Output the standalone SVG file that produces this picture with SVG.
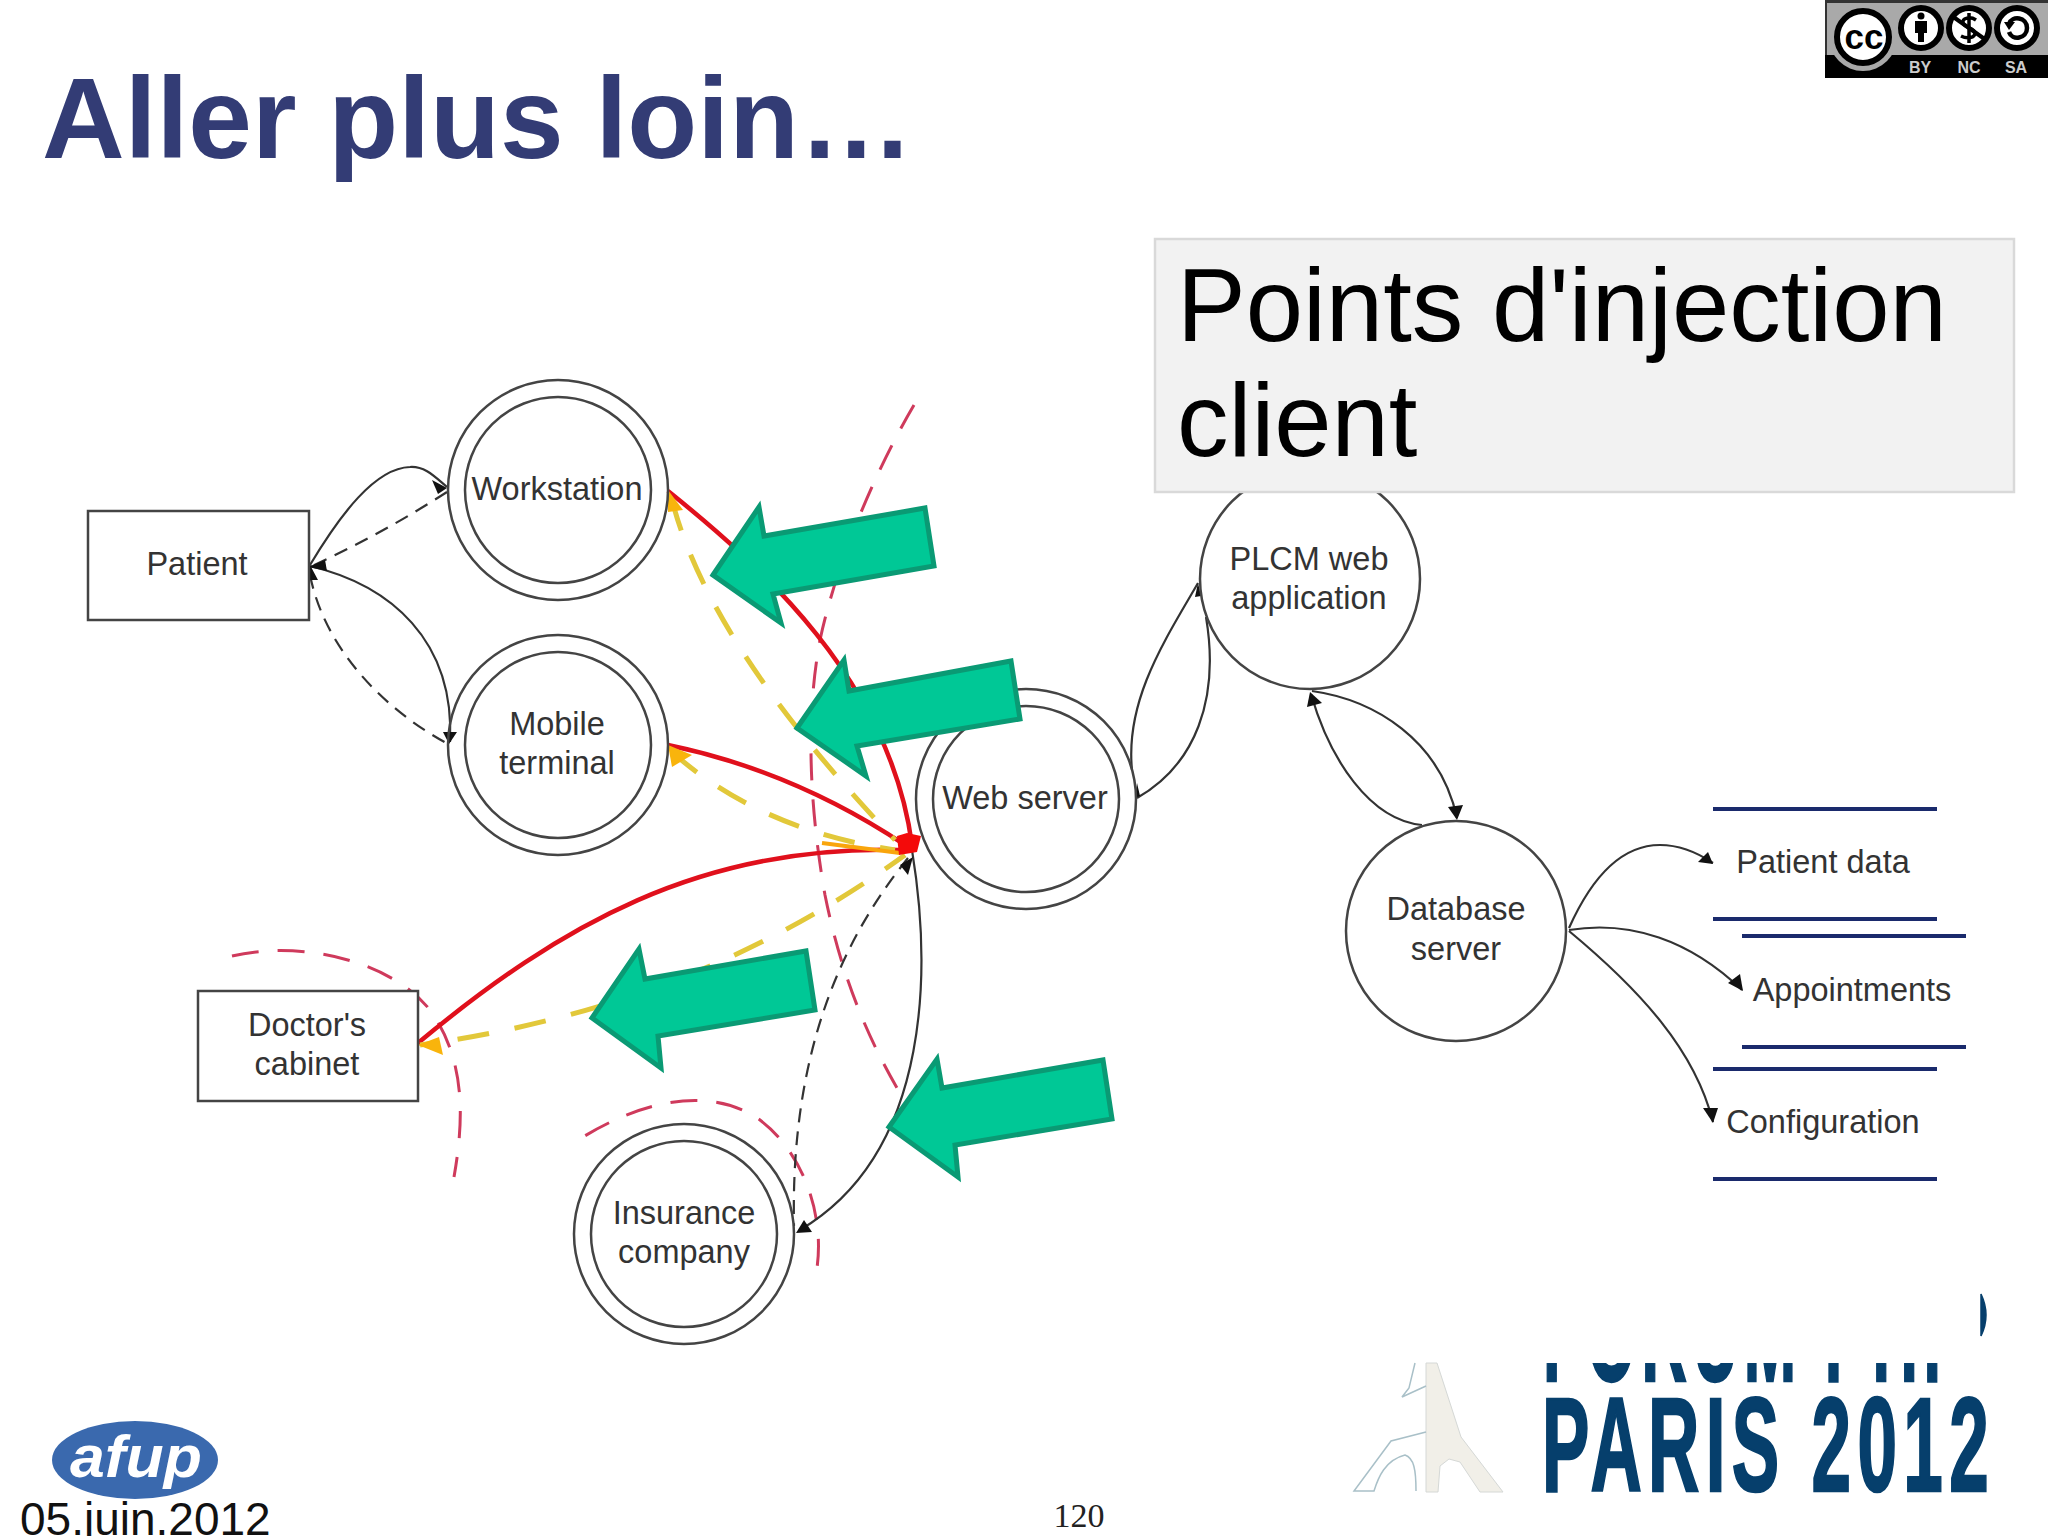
<svg xmlns="http://www.w3.org/2000/svg" width="2048" height="1536" viewBox="0 0 2048 1536">
<style>
text{font-family:"Liberation Sans",Arial,sans-serif}
.lbl{font-size:32.5px;fill:#333;text-anchor:middle}
.shape{fill:#fff;stroke:#444;stroke-width:2.5}
.thin{fill:none;stroke:#444;stroke-width:2.5}
.blk{fill:none;stroke:#333;stroke-width:2.2}
.dash{stroke-dasharray:14 9}
.red{fill:none;stroke:#e0101c;stroke-width:4.5}
.yel{fill:none;stroke:#e2c83a;stroke-width:5;stroke-dasharray:32 26}
.bound{fill:none;stroke:#cf3a5c;stroke-width:3;stroke-dasharray:27 19}
.head{fill:#111}
.goldhead{fill:#f9b40c}
.store{stroke:#1a2a6c;stroke-width:4;fill:none}
.big{fill:#00c896;stroke:#0a9a74;stroke-width:5}
.ic{fill:#fff;stroke:#000;stroke-width:6}
.par{font-weight:bold;font-size:134px;letter-spacing:12px;fill:#063f6c;stroke:#063f6c;stroke-width:2.5}
</style>
<defs>
<clipPath id="forumclip"><rect x="1530" y="1363" width="460" height="21"/></clipPath>
</defs>
<rect width="2048" height="1536" fill="#fff"/>

<text id="title" x="42" y="158" font-size="114.5" font-weight="bold" fill="#333c75">Aller plus loin…</text>

<g id="connectors">
<path class="bound" d="M914 405C870 480 835 570 820 640C805 720 810 810 825 895C840 970 865 1035 903 1098"/>
<path class="bound" d="M232 956C300 940 390 960 430 1010C466 1060 464 1120 454 1177"/>
<path class="bound" d="M575 1142C640 1100 710 1085 760 1120C800 1150 825 1210 817 1268" stroke-dashoffset="-12"/>

<path class="blk" d="M310 565C340 515 375 468 410 467C425 466 435 477 447 487"/>
<path class="blk dash" d="M447 492Q380 535 312 566"/>
<path class="blk" d="M310 566C390 585 455 640 450 742"/>
<path class="blk dash" d="M310 575C325 650 385 710 448 744"/>
<path class="blk" d="M1132 770C1125 700 1165 640 1198 583"/>
<path class="blk" d="M1137 798C1195 765 1220 700 1206 617"/>
<path class="blk" d="M1312 691C1375 700 1440 740 1457 818"/>
<path class="blk" d="M1311 694C1330 760 1370 820 1422 825"/>
<path class="blk" d="M1569 928C1595 870 1625 845 1660 845C1680 845 1698 853 1713 863"/>
<path class="blk" d="M1569 930C1630 920 1690 940 1742 990"/>
<path class="blk" d="M1569 931C1640 990 1695 1050 1713 1122"/>
<path class="blk" d="M912 850C930 960 935 1150 800 1230"/>
<path class="blk dash" d="M908 858C850 930 790 1040 794 1226"/>

<path class="red" d="M668 491C760 565 890 680 912 845"/>
<path class="red" d="M668 745C750 762 830 795 905 845"/>
<path class="red" d="M418 1043C560 925 700 845 900 850"/>
<path class="yel" d="M672 500C700 610 790 730 895 840"/>
<path class="yel" d="M672 752Q760 830 895 850"/>
<path class="yel" d="M420 1045C600 1020 760 960 905 855" stroke-dashoffset="20"/>
<path d="M822 843L900 853" fill="none" stroke="#f9a50c" stroke-width="4"/>
<polygon points="897,836 907,833 921,836 917,852 899,855" fill="#f40a0a"/>

<polygon class="goldhead" points="418,1045 439,1037 443,1055"/>
<polygon class="goldhead" points="668,490 668,512 683,510"/>
<polygon class="goldhead" points="668,745 672,767 692,755"/>

<polygon class="head" points="447,488 432,480 438,494"/>
<polygon class="head" points="308,567 325,560 327,571"/>
<polygon class="head" points="305,580 310,565 318,580"/>
<polygon class="head" points="443,732 457,732 449,744"/>
<polygon class="head" points="1198,583 1195,597 1201,596"/>
<polygon class="head" points="1137,783 1135,798 1140,796"/>
<polygon class="head" points="1310,692 1307,707 1322,703"/>
<polygon class="head" points="1448,807 1463,805 1457,820"/>
<polygon class="head" points="1713,864 1698,862 1708,852"/>
<polygon class="head" points="1743,991 1728,983 1740,974"/>
<polygon class="head" points="1713,1123 1703,1108 1718,1108"/>
<polygon class="head" points="913,857 900,865 908,875"/>
<polygon class="head" points="804,1220 796,1233 812,1232"/>
</g>

<g id="patient"><rect class="shape" x="88" y="511" width="221" height="109"/><text class="lbl" x="197" y="575">Patient</text></g>
<g id="doctor"><rect class="shape" x="198" y="991" width="220" height="110"/><text class="lbl" x="307" y="1036">Doctor's</text><text class="lbl" x="307" y="1075">cabinet</text></g>
<g id="workstation"><circle class="thin" cx="558" cy="490" r="110"/><circle class="thin" cx="558" cy="490" r="93"/><text class="lbl" x="557" y="500">Workstation</text></g>
<g id="mobile"><circle class="thin" cx="558" cy="745" r="110"/><circle class="thin" cx="558" cy="745" r="93"/><text class="lbl" x="557" y="735">Mobile</text><text class="lbl" x="557" y="774">terminal</text></g>
<g id="webserver"><circle class="thin" cx="1026" cy="799" r="110"/><circle class="thin" cx="1026" cy="799" r="93"/><text class="lbl" x="1025" y="809">Web server</text></g>
<g id="insurance"><circle class="thin" cx="684" cy="1234" r="110"/><circle class="thin" cx="684" cy="1234" r="93"/><text class="lbl" x="684" y="1224">Insurance</text><text class="lbl" x="684" y="1263">company</text></g>
<g id="plcm"><circle class="thin" cx="1310" cy="579" r="110"/><text class="lbl" x="1309" y="570">PLCM web</text><text class="lbl" x="1309" y="609">application</text></g>
<g id="database"><circle class="thin" cx="1456" cy="931" r="110"/><text class="lbl" x="1456" y="920">Database</text><text class="lbl" x="1456" y="960">server</text></g>
<g id="patientdata"><path class="store" d="M1713 809H1937M1713 919H1937"/><text class="lbl" x="1823" y="873">Patient data</text></g>
<g id="appointments"><path class="store" d="M1742 936H1966M1742 1047H1966"/><text class="lbl" x="1852" y="1001">Appointments</text></g>
<g id="configuration"><path class="store" d="M1713 1069H1937M1713 1179H1937"/><text class="lbl" x="1823" y="1133">Configuration</text></g>

<g id="arrow1"><polygon class="big" points="713,575 759,507 764,536 925,508 934,566 773,594 781,623"/></g>
<g id="arrow2"><polygon class="big" points="797,728 844,660 849,691 1011,661 1020,719 857,746 866,776"/></g>
<g id="arrow3"><polygon class="big" points="592,1018 639,949 645,979 806,951 815,1010 658,1036 661,1068"/></g>
<g id="arrow4"><polygon class="big" points="889,1127 937,1059 942,1088 1103,1060 1112,1119 955,1145 958,1177"/></g>

<g id="callout"><rect x="1155" y="239" width="859" height="253" fill="#f2f2f2" stroke="#d9d9d9" stroke-width="2.5"/><text x="1177" y="341" font-size="103" fill="#000">Points d'injection</text><text x="1177" y="456" font-size="103" fill="#000">client</text></g>

<g id="cc-badge">
<rect x="1825" y="0" width="223" height="78" fill="#333"/>
<rect x="1827" y="3" width="221" height="52" fill="#a9a9a9"/>
<rect x="1825" y="55" width="223" height="23" fill="#000"/>
<circle cx="1863" cy="37" r="34" fill="#a9a9a9"/>
<circle class="ic" cx="1863" cy="37" r="26" stroke-width="7"/>
<text x="1864" y="49" font-size="35" font-weight="bold" text-anchor="middle" fill="#000">cc</text>
<circle class="ic" cx="1921" cy="28" r="20"/>
<circle cx="1921" cy="16" r="3.5" fill="#000"/>
<path d="M1915 21H1927V33H1924V42H1918V33H1915Z" fill="#000"/>
<circle class="ic" cx="1969" cy="28" r="20"/>
<path d="M1976 20C1970 16 1962 18 1963 23C1964 28 1975 28 1975 33C1975 38 1967 39 1961 36M1969 13V43" fill="none" stroke="#000" stroke-width="3.5"/>
<path d="M1952 16L1986 40" fill="none" stroke="#000" stroke-width="4"/>
<circle class="ic" cx="2017" cy="28" r="20"/>
<path d="M2009 24C2012 15 2027 17 2027 28C2027 39 2012 41 2009 32" fill="none" stroke="#000" stroke-width="4.5"/>
<path d="M2004 22L2015 22L2009 30Z" fill="#000"/>
<g font-size="16" font-weight="bold" fill="#ccc" text-anchor="middle"><text x="1920" y="73">BY</text><text x="1969" y="73">NC</text><text x="2016" y="73">SA</text></g>
</g>

<g id="forum-logo">
<path d="M1981 1294Q1991 1315 1981 1336Z" fill="#063f6c" stroke="#063f6c" stroke-width="1.5"/>
<polygon points="1426,1363 1437,1363 1461,1437 1503,1492 1480,1492 1460,1462 1449,1459 1440,1466 1438,1492 1426,1492" fill="#f1efe8" stroke="#d5d8d6" stroke-width="1"/>
<path d="M1415 1363L1409 1388L1402 1397L1426 1386M1426 1432L1391 1441L1354 1491H1374C1378 1478 1385 1460 1405 1455C1414 1458 1416 1470 1416 1491" fill="none" stroke="#a9c0c8" stroke-width="1.5"/>
<text clip-path="url(#forumclip)" class="par" x="1543" y="1381" textLength="428" lengthAdjust="spacingAndGlyphs">FORUM PHP</text>
<text class="par" x="1542" y="1491" textLength="453" lengthAdjust="spacingAndGlyphs">PARIS 2012</text>
</g>

<g id="afup-logo"><ellipse cx="135" cy="1460" rx="83" ry="39" fill="#3a69ae"/><text x="70" y="1477" font-size="60" font-weight="bold" font-style="italic" fill="#fff" textLength="132" lengthAdjust="spacingAndGlyphs">afup</text></g>

<text id="date" x="20" y="1535" font-size="46" fill="#111">05.juin.2012</text>
<text id="page" x="1079" y="1527" font-size="34" fill="#222" text-anchor="middle" style="font-family:'Liberation Serif',serif">120</text>
</svg>
